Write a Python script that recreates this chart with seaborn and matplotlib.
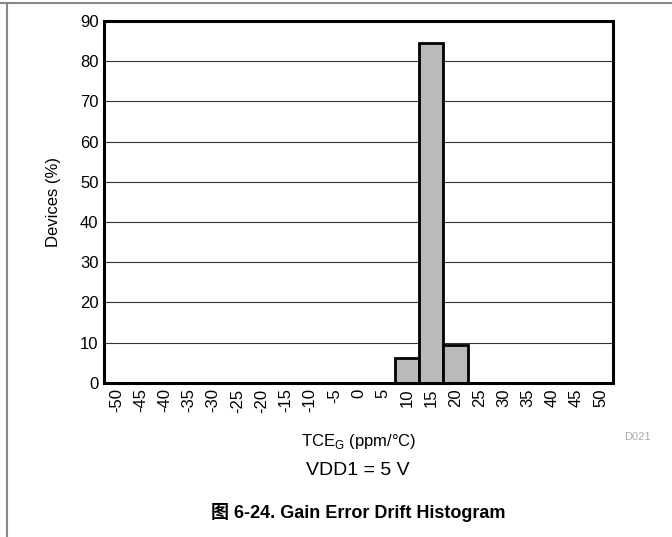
import matplotlib
matplotlib.use("Agg")
import matplotlib.pyplot as plt
import seaborn as sns
import pandas as pd
from matplotlib.lines import Line2D

# histogram bins (ppm/°C) and share of devices (%)
bins = [-50, -45, -40, -35, -30, -25, -20, -15, -10, -5, 0,
        5, 10, 15, 20, 25, 30, 35, 40, 45, 50]
devices = [0, 0, 0, 0, 0, 0, 0, 0, 0, 0, 0,
           0, 6.3, 84.4, 9.3, 0, 0, 0, 0, 0, 0]
y_ticks = [0, 10, 20, 30, 40, 50, 60, 70, 80, 90]

df = pd.DataFrame({"bin": [str(b) for b in bins], "pct": devices})

sns.set_style("white")
plt.rcParams['font.family'] = ['Liberation Sans', 'Noto Sans CJK SC', 'DejaVu Sans']
plt.rcParams['text.color'] = 'black'
plt.rcParams['axes.labelcolor'] = 'black'
plt.rcParams['xtick.color'] = 'black'
plt.rcParams['ytick.color'] = 'black'

fig = plt.figure(figsize=(6.72, 5.37), dpi=100)
ax = fig.add_axes([0.155, 0.287, 0.757, 0.674])

# grid lines behind bars
for t in y_ticks:
    ax.axhline(t, color='#333333', linewidth=0.8, zorder=0)

sns.barplot(data=df, x="bin", y="pct", order=df["bin"], color='#bababa',
            saturation=1, edgecolor='black', linewidth=2, width=1.0,
            errorbar=None, ax=ax, zorder=2)

ax.set_xlim(-0.5, len(bins) - 0.5)
ax.set_ylim(0, 90)
ax.set_yticks(y_ticks)
ax.set_yticklabels([str(t) for t in y_ticks], fontsize=12)
ax.set_xticks(range(len(bins)))
ax.set_xticklabels([str(b) for b in bins], rotation=90, fontsize=12)
ax.set_xticks([-0.5, len(bins) - 0.5], minor=True)
ax.tick_params(axis='both', which='major', length=0, pad=4)
ax.tick_params(axis='x', which='minor', length=6, width=0.8, color='#555555')

for s in ax.spines.values():
    s.set_visible(True)
    s.set_linewidth(2.2)
    s.set_color('black')

ax.set_xlabel('')
ax.set_ylabel('Devices (%)', fontsize=12, labelpad=14)

fig.text(0.533, 0.178, r'TCE$_\mathregular{G}$ (ppm/°C)', ha='center', va='center', fontsize=12)
fig.text(0.948, 0.186, 'D021', ha='center', va='center', fontsize=8, color='#aaaaaa')
fig.text(0.533, 0.124, 'VDD1 = 5 V', ha='center', va='center', fontsize=14)
fig.text(0.533, 0.045, '图 6-24. Gain Error Drift Histogram', ha='center', va='center',
         fontsize=13, fontweight='bold')

# page frame lines
fig.add_artist(Line2D([0, 1], [0.994, 0.994], color='#888888', linewidth=1.5,
                      transform=fig.transFigure))
fig.add_artist(Line2D([0.011, 0.011], [0, 0.994], color='#888888', linewidth=1.5,
                      transform=fig.transFigure))

plt.savefig('out.png', dpi=100)
